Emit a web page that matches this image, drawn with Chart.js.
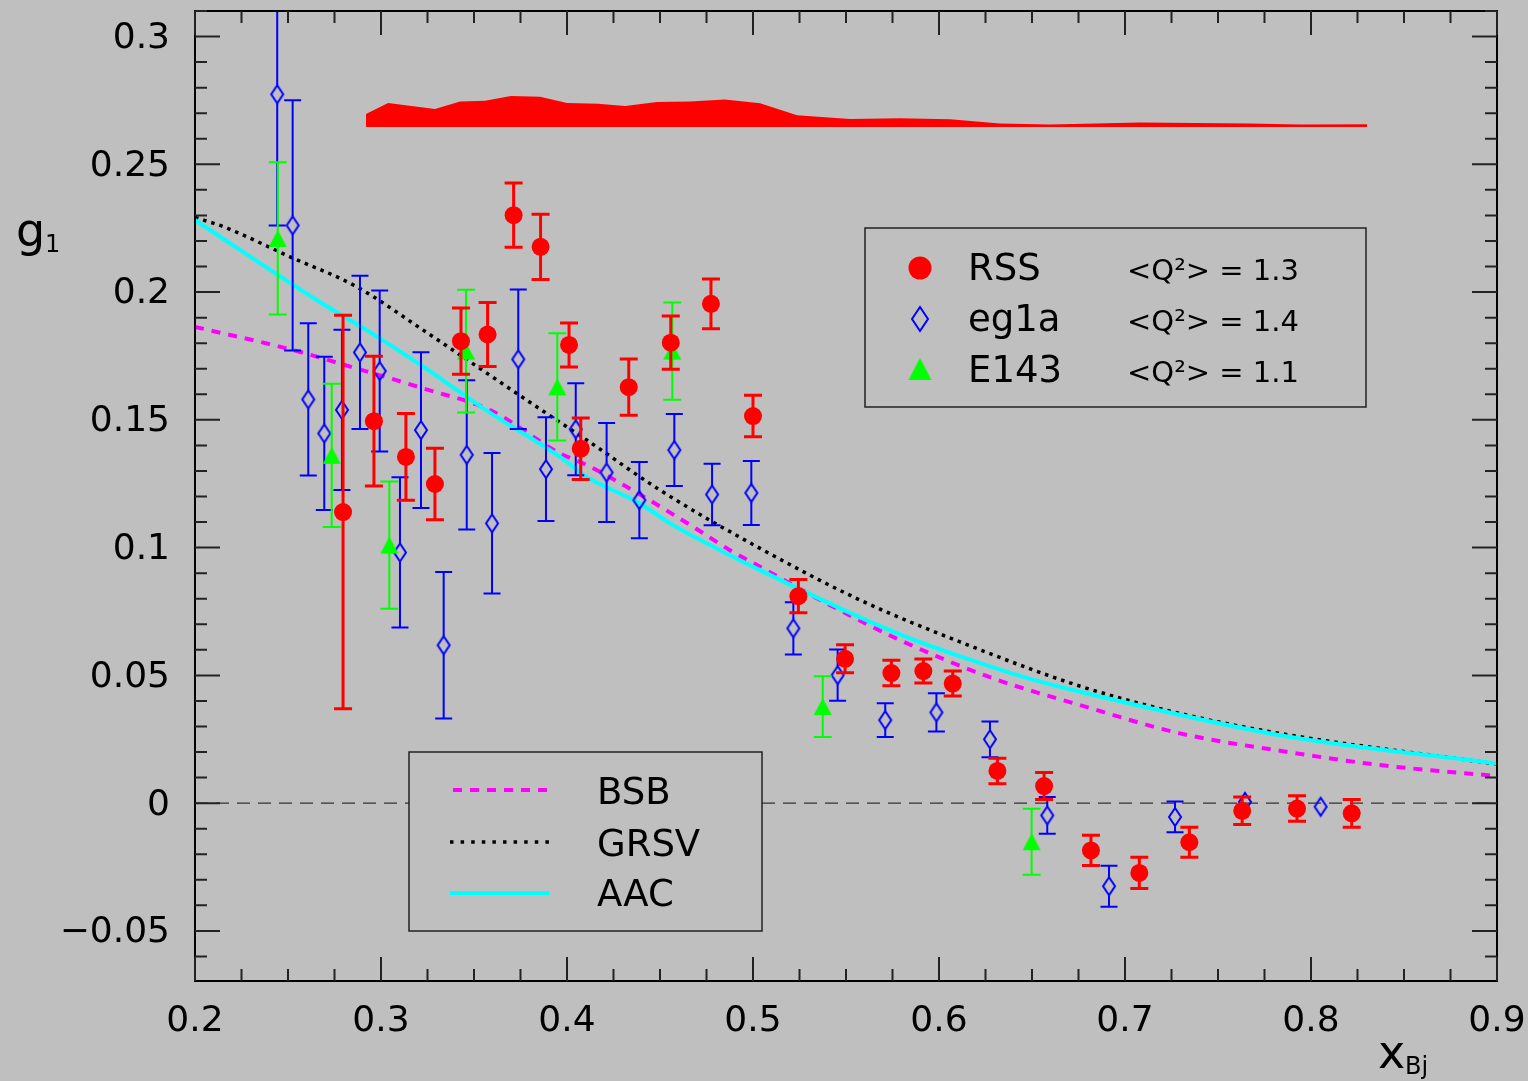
<!DOCTYPE html>
<html>
<head>
<meta charset="utf-8">
<title>g1 vs x</title>
<script src="https://cdn.jsdelivr.net/npm/chart.js@4.4.1/dist/chart.umd.min.js"></script>
<style>
  html, body { margin: 0; padding: 0; background: #bfbfbf; }
  canvas { display: block; }
</style>
</head>
<body>
<canvas id="c" width="1528" height="1081"></canvas>
<script>
// ---------- axis ticks ----------
const xTicks = [0.2, 0.3, 0.4, 0.5, 0.6, 0.7, 0.8, 0.9];
const xTickLabels = ['0.2', '0.3', '0.4', '0.5', '0.6', '0.7', '0.8', '0.9'];
const yTicks = [-0.05, 0, 0.05, 0.1, 0.15, 0.2, 0.25, 0.3];
const yTickLabels = ['\u22120.05', '0', '0.05', '0.1', '0.15', '0.2', '0.25', '0.3'];

// ---------- RSS (filled circles) ----------
const rssX = [0.2796, 0.2962, 0.3134, 0.3290, 0.3430, 0.3573, 0.3713, 0.3858, 0.4011, 0.4074,
              0.4332, 0.4558, 0.4774, 0.5000, 0.5244, 0.5495, 0.5744, 0.5916, 0.6074, 0.6314,
              0.6565, 0.6817, 0.7077, 0.7346, 0.7630, 0.7925, 0.8219];
const rssY = [0.1139, 0.1495, 0.1355, 0.1249, 0.1808, 0.1834, 0.2301, 0.2177, 0.1793, 0.1387,
              0.1628, 0.1802, 0.1954, 0.1515, 0.0810, 0.0565, 0.0509, 0.0517, 0.0468, 0.0126,
              0.0067, -0.0185, -0.0273, -0.0153, -0.0030, -0.0021, -0.0040];
const rssErr = [0.0770, 0.0254, 0.0170, 0.0140, 0.0130, 0.0125, 0.0126, 0.0128, 0.0086, 0.0120,
                0.0110, 0.0104, 0.0097, 0.0081, 0.0065, 0.0055, 0.0050, 0.0047, 0.0049, 0.0050,
                0.0053, 0.0059, 0.0061, 0.0059, 0.0054, 0.0050, 0.0054];

// ---------- eg1a (open diamonds) ----------
const eg1aX = [0.2442, 0.2525, 0.2609, 0.2695, 0.2790, 0.2887, 0.2993, 0.3102, 0.3215, 0.3337,
               0.3461, 0.3597, 0.3738, 0.3887, 0.4047, 0.4213, 0.4389, 0.4577, 0.4780, 0.4991,
               0.5217, 0.5455, 0.5711, 0.5986, 0.6274, 0.6582, 0.6914, 0.7269, 0.7645, 0.8052];
const eg1aY = [0.2774, 0.2261, 0.1580, 0.1447, 0.1539, 0.1764, 0.1691, 0.0981, 0.1460, 0.0618,
               0.1363, 0.1095, 0.1737, 0.1307, 0.1463, 0.1294, 0.1186, 0.1382, 0.1208, 0.1214,
               0.0684, 0.0501, 0.0325, 0.0355, 0.0250, -0.0048, -0.0325, -0.0054, 0.0005, -0.0014];
const eg1aErr = [0.0513, 0.0490, 0.0298, 0.0300, 0.0314, 0.0300, 0.0315, 0.0294, 0.0305, 0.0287,
                 0.0292, 0.0275, 0.0273, 0.0203, 0.0180, 0.0194, 0.0149, 0.0141, 0.0120, 0.0125,
                 0.0102, 0.0100, 0.0066, 0.0075, 0.0070, 0.0072, 0.0080, 0.0060, 0.0030, 0.0020];

// ---------- E143 (filled triangles) ----------
const e143X = [0.2445, 0.2735, 0.3045, 0.3457, 0.3948, 0.4566, 0.5375, 0.6498];
const e143Y = [0.2210, 0.1361, 0.1010, 0.1769, 0.1629, 0.1769, 0.0378, -0.0151];
const e143Err = [0.0298, 0.0280, 0.0249, 0.0240, 0.0210, 0.0190, 0.0119, 0.0129];

// ---------- systematic error band ----------
const bandBase = 0.2646;
const bandX = [0.2919, 0.3038, 0.3290, 0.3425, 0.3559, 0.3699, 0.3855, 0.4000, 0.4167, 0.4312,
               0.4484, 0.4661, 0.4849, 0.5038, 0.5237, 0.5522, 0.5790, 0.6059, 0.6328, 0.6597,
               0.7081, 0.7672, 0.7941, 0.8301];
const bandTop = [0.2697, 0.2740, 0.2716, 0.2746, 0.2749, 0.2767, 0.2764, 0.2740, 0.2737, 0.2728,
                 0.2744, 0.2746, 0.2754, 0.2739, 0.2692, 0.2677, 0.2680, 0.2676, 0.2660, 0.2656,
                 0.2664, 0.2660, 0.2656, 0.2657];

// ---------- model curves ----------
const bsbX = [0.2000, 0.2528, 0.2869, 0.3227, 0.3586, 0.3962, 0.4106, 0.4321, 0.4679, 0.4876,
              0.5038, 0.5396, 0.5790, 0.6292, 0.6758, 0.7296, 0.7833, 0.8371, 0.9000];
const bsbY = [0.1864, 0.1773, 0.1701, 0.1623, 0.1538, 0.1369, 0.1323, 0.1238, 0.1081, 0.0990,
              0.0925, 0.0782, 0.0638, 0.0488, 0.0384, 0.0273, 0.0205, 0.0149, 0.0106];

const grsvX = [0.2000, 0.2152, 0.2511, 0.2869, 0.3227, 0.3532, 0.3837, 0.4106, 0.4500, 0.5038,
               0.5575, 0.6113, 0.6758, 0.7296, 0.7833, 0.9000];
const grsvY = [0.2292, 0.2256, 0.2138, 0.2021, 0.1851, 0.1701, 0.1551, 0.1421, 0.1225, 0.0997,
               0.0795, 0.0631, 0.0458, 0.0351, 0.0273, 0.0153];

const aacX = [0.2000, 0.2654, 0.2923, 0.3227, 0.3550, 0.3962, 0.4106, 0.4392, 0.4554, 0.4823,
              0.5038, 0.5548, 0.5844, 0.6149, 0.6453, 0.6758, 0.7833, 0.9000];
const aacY = [0.2282, 0.1969, 0.1851, 0.1708, 0.1545, 0.1355, 0.1277, 0.1173, 0.1095, 0.0990,
              0.0912, 0.0736, 0.0645, 0.0566, 0.0494, 0.0436, 0.0266, 0.0155];

// ---------- helpers ----------
const pts = (xs, ys) => xs.map((x, i) => ({ x, y: ys[i] }));
const FONT = '"DejaVu Sans", "Liberation Sans", sans-serif';
const BG = '#bfbfbf';

function diamondCanvas(w, h, lw, color) {
  const c = document.createElement('canvas');
  c.width = w + 4; c.height = h + 4;
  const g = c.getContext('2d');
  g.strokeStyle = color; g.lineWidth = lw;
  g.beginPath();
  g.moveTo(c.width / 2, 2); g.lineTo(c.width - 2, c.height / 2);
  g.lineTo(c.width / 2, c.height - 2); g.lineTo(2, c.height / 2);
  g.closePath(); g.stroke();
  return c;
}
function triangleCanvas(w, h, color) {
  const c = document.createElement('canvas');
  c.width = w + 2; c.height = h + 2;
  const g = c.getContext('2d');
  g.fillStyle = color;
  g.beginPath();
  g.moveTo(c.width / 2, 1); g.lineTo(c.width - 1, c.height - 1); g.lineTo(1, c.height - 1);
  g.closePath(); g.fill();
  return c;
}

// error bars are drawn right before the markers of their own dataset
const errorBars = {
  id: 'errorBars',
  beforeDatasetDraw(chart, args) {
    const ds = chart.data.datasets[args.index];
    if (!ds.errBars) return;
    const { ctx, chartArea: a, scales: { x, y } } = chart;
    const eb = ds.errBars;
    ctx.save();
    ctx.beginPath(); ctx.rect(a.left, a.top, a.width, a.height); ctx.clip();
    ctx.strokeStyle = eb.color; ctx.lineWidth = eb.width; ctx.lineCap = 'butt';
    ds.data.forEach((p, i) => {
      const e = eb.values[i];
      const px = x.getPixelForValue(p.x), py = y.getPixelForValue(p.y);
      const top = y.getPixelForValue(p.y + e), bot = y.getPixelForValue(p.y - e);
      ctx.beginPath();
      if (top < py - eb.gap) {
        ctx.moveTo(px, py - eb.gap); ctx.lineTo(px, top);
        ctx.moveTo(px - eb.cap, top); ctx.lineTo(px + eb.cap, top);
      }
      if (bot > py + eb.gap) {
        ctx.moveTo(px, py + eb.gap); ctx.lineTo(px, bot);
        ctx.moveTo(px - eb.cap, bot); ctx.lineTo(px + eb.cap, bot);
      }
      ctx.stroke();
    });
    ctx.restore();
  }
};

// background, zero line, frame, inward ticks, legends and axis titles
const decorations = {
  id: 'decorations',
  beforeDraw(chart) {
    const { ctx } = chart;
    ctx.save();
    ctx.fillStyle = BG;
    ctx.fillRect(0, 0, chart.width, chart.height);
    ctx.restore();
  },
  beforeDatasetsDraw(chart) {
    const { ctx, chartArea: a, scales: { y } } = chart;
    const y0 = y.getPixelForValue(0);
    ctx.save();
    ctx.strokeStyle = '#333'; ctx.lineWidth = 1.3; ctx.setLineDash([13, 8]);
    ctx.beginPath(); ctx.moveTo(a.left, y0); ctx.lineTo(a.right, y0); ctx.stroke();
    ctx.restore();
  },
  afterDatasetsDraw(chart) {
    const { ctx, chartArea: a, scales: { x, y } } = chart;
    ctx.save();
    // frame
    ctx.strokeStyle = '#000'; ctx.lineWidth = 2;
    ctx.strokeRect(a.left, a.top, a.right - a.left, a.bottom - a.top);
    // ticks pointing inward on all four sides
    ctx.strokeStyle = '#222'; ctx.lineWidth = 2;
    ctx.beginPath();
    for (let k = -6; k <= 31; k++) {
      const v = k / 100, py = y.getPixelForValue(v);
      const len = (k % 5 === 0) ? 25 : 12;
      ctx.moveTo(a.left, py); ctx.lineTo(a.left + len, py);
      ctx.moveTo(a.right, py); ctx.lineTo(a.right - len, py);
    }
    for (let k = 0; k <= 28; k++) {
      const v = 0.2 + k * 0.025, px = x.getPixelForValue(v);
      const len = (k % 4 === 0) ? 24 : 12;
      ctx.moveTo(px, a.top); ctx.lineTo(px, a.top + len);
      ctx.moveTo(px, a.bottom); ctx.lineTo(px, a.bottom - len);
    }
    ctx.stroke();

    // marker legend
    ctx.fillStyle = BG; ctx.strokeStyle = '#222'; ctx.lineWidth = 1.5;
    ctx.fillRect(865, 228, 501, 179); ctx.strokeRect(865, 228, 501, 179);
    const rowsA = [268, 319, 369];
    ctx.fillStyle = '#ff0000';
    ctx.beginPath(); ctx.arc(920, rowsA[0], 11.5, 0, Math.PI * 2); ctx.fill();
    const dL = diamondCanvas(16, 24, 2, '#0000ff');
    ctx.drawImage(dL, 920 - dL.width / 2, rowsA[1] - dL.height / 2);
    const tL = triangleCanvas(23, 22, '#00ff00');
    ctx.drawImage(tL, 920 - tL.width / 2, rowsA[2] - tL.height / 2);
    ctx.fillStyle = '#000';
    ctx.textAlign = 'left'; ctx.textBaseline = 'alphabetic';
    ctx.font = '37px ' + FONT;
    ctx.fillText('RSS', 968, 280);
    ctx.fillText('eg1a', 968, 331);
    ctx.fillText('E143', 968, 382);
    ctx.font = '29px ' + FONT;
    ctx.fillText('<Q\u00B2> = 1.3', 1127, 280);
    ctx.fillText('<Q\u00B2> = 1.4', 1127, 331);
    ctx.fillText('<Q\u00B2> = 1.1', 1127, 382);

    // curve legend
    ctx.fillStyle = BG; ctx.strokeStyle = '#222'; ctx.lineWidth = 1.5;
    ctx.fillRect(409, 752, 353, 179); ctx.strokeRect(409, 752, 353, 179);
    const rowsB = [790, 842, 893];
    ctx.lineCap = 'butt';
    ctx.strokeStyle = '#ff00ff'; ctx.lineWidth = 4; ctx.setLineDash([9, 8]);
    ctx.beginPath(); ctx.moveTo(453, rowsB[0]); ctx.lineTo(550, rowsB[0]); ctx.stroke();
    ctx.strokeStyle = '#000'; ctx.lineWidth = 3.5; ctx.setLineDash([3.5, 7.1]);
    ctx.beginPath(); ctx.moveTo(450, rowsB[1]); ctx.lineTo(550, rowsB[1]); ctx.stroke();
    ctx.strokeStyle = '#00ffff'; ctx.lineWidth = 4; ctx.setLineDash([]);
    ctx.beginPath(); ctx.moveTo(450, rowsB[2]); ctx.lineTo(549, rowsB[2]); ctx.stroke();
    ctx.fillStyle = '#000'; ctx.font = '37px ' + FONT;
    ctx.fillText('BSB', 597, 804);
    ctx.fillText('GRSV', 597, 856);
    ctx.fillText('AAC', 597, 906);

    // axis titles
    ctx.font = '46px ' + FONT;
    ctx.fillText('g', 16, 246);
    ctx.font = '24px ' + FONT;
    ctx.fillText('1', 45, 252);
    ctx.font = '46px ' + FONT;
    ctx.fillText('x', 1378, 1068);
    ctx.font = '24px ' + FONT;
    ctx.fillText('Bj', 1405, 1074);
    ctx.restore();
  }
};

const diamond = diamondCanvas(12, 18, 2, '#0000ff');
const triangle = triangleCanvas(18, 17, '#00ff00');

new Chart(document.getElementById('c'), {
  type: 'scatter',
  data: {
    datasets: [
      {
        label: 'RSS',
        data: pts(rssX, rssY),
        pointStyle: 'circle', pointRadius: 9, pointBackgroundColor: '#ff0000',
        pointBorderWidth: 0, borderColor: '#ff0000',
        errBars: { values: rssErr, color: '#ff0000', width: 3, cap: 9, gap: 0 }
      },
      {
        label: 'E143',
        data: pts(e143X, e143Y),
        pointStyle: triangle, pointRadius: 9,
        errBars: { values: e143Err, color: '#00ff00', width: 2, cap: 9, gap: 0 }
      },
      {
        label: 'eg1a',
        data: pts(eg1aX, eg1aY),
        pointStyle: diamond, pointRadius: 9,
        errBars: { values: eg1aErr, color: '#0000ff', width: 2, cap: 8.5, gap: 9 }
      },
      {
        label: 'AAC',
        data: pts(aacX, aacY),
        showLine: true, pointRadius: 0, borderColor: '#00ffff', borderWidth: 4,
        cubicInterpolationMode: 'monotone'
      },
      {
        label: 'GRSV',
        data: pts(grsvX, grsvY),
        showLine: true, pointRadius: 0, borderColor: '#000000', borderWidth: 3.5,
        borderDash: [3.5, 5], cubicInterpolationMode: 'monotone'
      },
      {
        label: 'BSB',
        data: pts(bsbX, bsbY),
        showLine: true, pointRadius: 0, borderColor: '#ff00ff', borderWidth: 4,
        borderDash: [9, 8], cubicInterpolationMode: 'monotone'
      },
      {
        label: 'syst',
        data: pts(bandX, bandTop),
        showLine: true, pointRadius: 0, borderWidth: 0, borderColor: 'rgba(0,0,0,0)',
        backgroundColor: '#ff0000', fill: { value: bandBase }, tension: 0
      }
    ]
  },
  options: {
    responsive: false,
    animation: false,
    devicePixelRatio: 1,
    events: [],
    layout: { padding: { top: 11, right: 31, left: 0, bottom: 0 } },
    plugins: {
      legend: { display: false },
      tooltip: { enabled: false },
      title: { display: false }
    },
    scales: {
      x: {
        type: 'linear', min: 0.2, max: 0.9,
        grid: { display: false, drawTicks: false },
        border: { display: false },
        afterBuildTicks: s => { s.ticks = xTicks.map(v => ({ value: v })); },
        afterFit: s => { s.height = 100; s.paddingLeft = 0; s.paddingRight = 0; },
        ticks: {
          autoSkip: false, maxRotation: 0, padding: 19, color: '#000',
          font: { family: FONT, size: 36 },
          callback: (v) => xTickLabels[xTicks.findIndex(t => Math.abs(t - v) < 1e-9)]
        }
      },
      y: {
        type: 'linear', min: -0.0696, max: 0.31,
        grid: { display: false, drawTicks: false },
        border: { display: false },
        afterBuildTicks: s => { s.ticks = yTicks.map(v => ({ value: v })); },
        afterFit: s => { s.width = 195; s.paddingTop = 0; s.paddingBottom = 0; },
        ticks: {
          autoSkip: false, padding: 25, labelOffset: 2, color: '#000',
          font: { family: FONT, size: 36 },
          callback: (v) => yTickLabels[yTicks.findIndex(t => Math.abs(t - v) < 1e-9)]
        }
      }
    }
  },
  plugins: [errorBars, decorations]
});
</script>
</body>
</html>
